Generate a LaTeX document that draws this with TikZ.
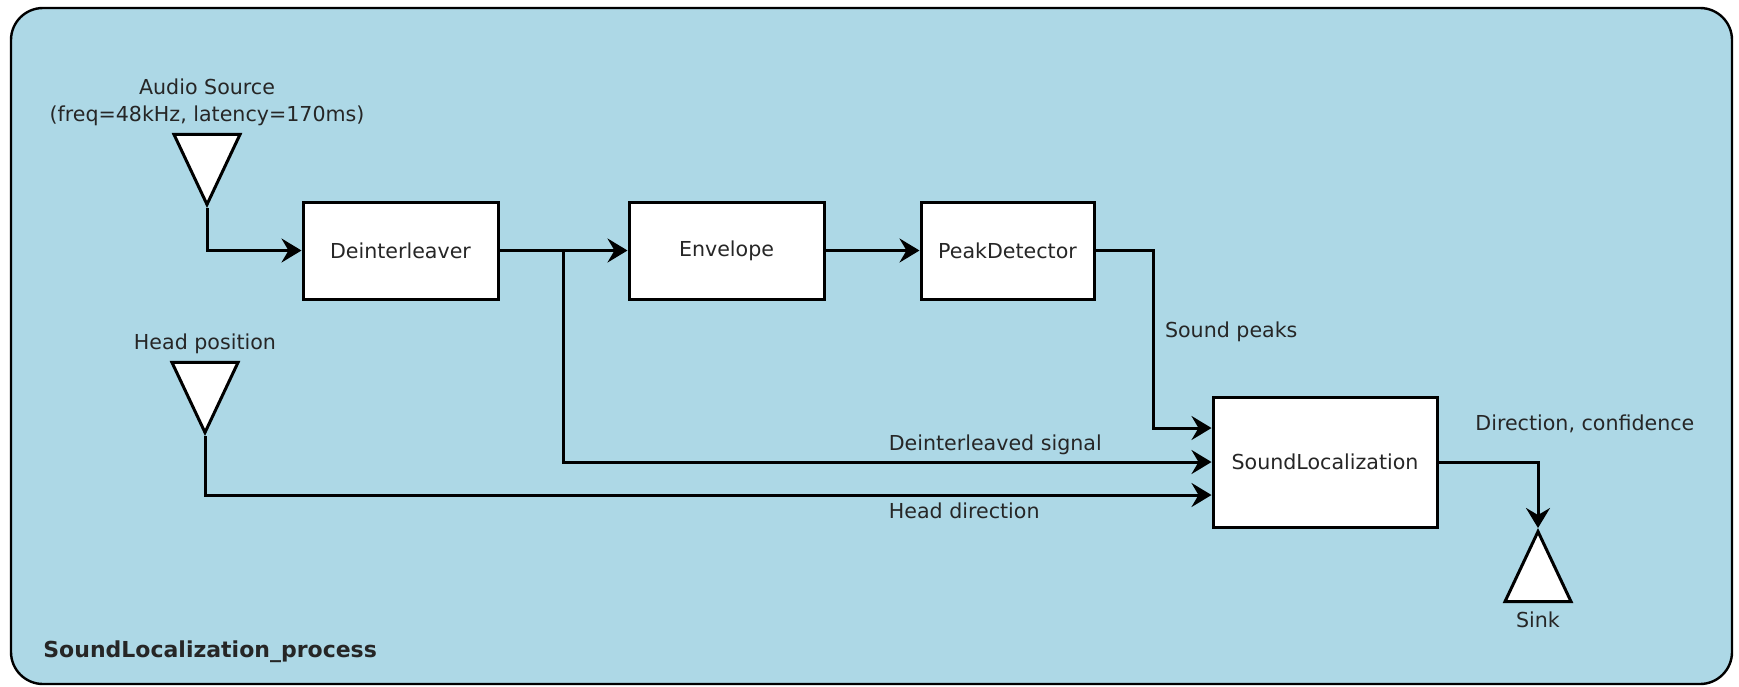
\documentclass[tikz,border=0pt]{standalone}
\usepackage{fontspec}
\setmainfont{DejaVu Sans}
\usetikzlibrary{arrows.meta,shapes.geometric,positioning}
\definecolor{lightblue}{RGB}{173,216,230}

\begin{document}
\begin{tikzpicture}[x=0.5pt,y=-0.5pt,
        every node/.style={font=\fontsize{10.3}{13.5}\selectfont, text=black!85},
        block/.style={draw, line width=1.5pt, fill=white, minimum width=97.5pt, minimum height=48.5pt, inner sep=0pt},
        port/.style={draw, line width=1.5pt, fill=white, isosceles triangle, isosceles triangle apex angle=50,
                     isosceles triangle stretches, minimum width=33pt, minimum height=35pt, inner sep=0pt},
        flow/.style={line width=1.5pt, -{Stealth[length=10pt,width=12pt,inset=3.5pt]}},
        lbl/.style={inner sep=0pt, anchor=west}
    ]
    \useasboundingbox (0,0) rectangle (1739,686);

    % Frame
    \draw[line width=1.2pt, fill=lightblue, rounded corners=16pt] (11,8) rectangle (1732,684);

    % Nodes
    \node[block] (deint) at (400.5,250.5) {Deinterleaver};
    \node[block, right=64pt of deint] (env) {Envelope};
    \node[block, right=47pt of env, minimum width=86.5pt] (peak) {PeakDetector};
    \node[block, minimum width=112pt, minimum height=65pt] (loc) at (1325,462) {SoundLocalization};

    \node[port, shape border rotate=270, anchor=apex] (audio) at (207,208) {};
    \node[port, shape border rotate=270, anchor=apex] (head) at (205,436) {};
    \node[port, shape border rotate=90, anchor=apex] (sink) at (1538,528) {};

    \node[above=0pt of audio, align=center] (audiolbl) {Audio Source\\(freq=48kHz, latency=170ms)};
    \node[above=0pt of head] (headlbl) {Head position};
    \node[below=1pt of sink] (sinklbl) {Sink};
    \node[anchor=west, inner sep=0pt, font=\fontsize{11}{13.5}\selectfont\bfseries] (title) at (43,652) {SoundLocalization\_process};

    % Edges
    \coordinate (split) at (563,250.5);
    \draw[flow] (audio.apex) |- (deint);
    \draw[flow] (deint) -- (env);
    \draw[flow] (env) -- (peak);
    \draw[flow] (split) |- node[lbl, pos=0.75, yshift=8.5pt] {Deinterleaved signal} (loc);
    \draw[flow] (peak.east) -- ++(58,0) |- node[lbl, pos=0.23, xshift=5pt] {Sound peaks} ([yshift=17pt]loc.west);
    \draw[flow] (head.apex) |- node[lbl, pos=0.839, yshift=-8pt] {Head direction} ([yshift=-16.5pt]loc.west);
    \draw[flow] (loc) -| node[lbl, pos=0.178, yshift=19pt] {Direction, confidence} (sink.apex);

\end{tikzpicture}
\end{document}
